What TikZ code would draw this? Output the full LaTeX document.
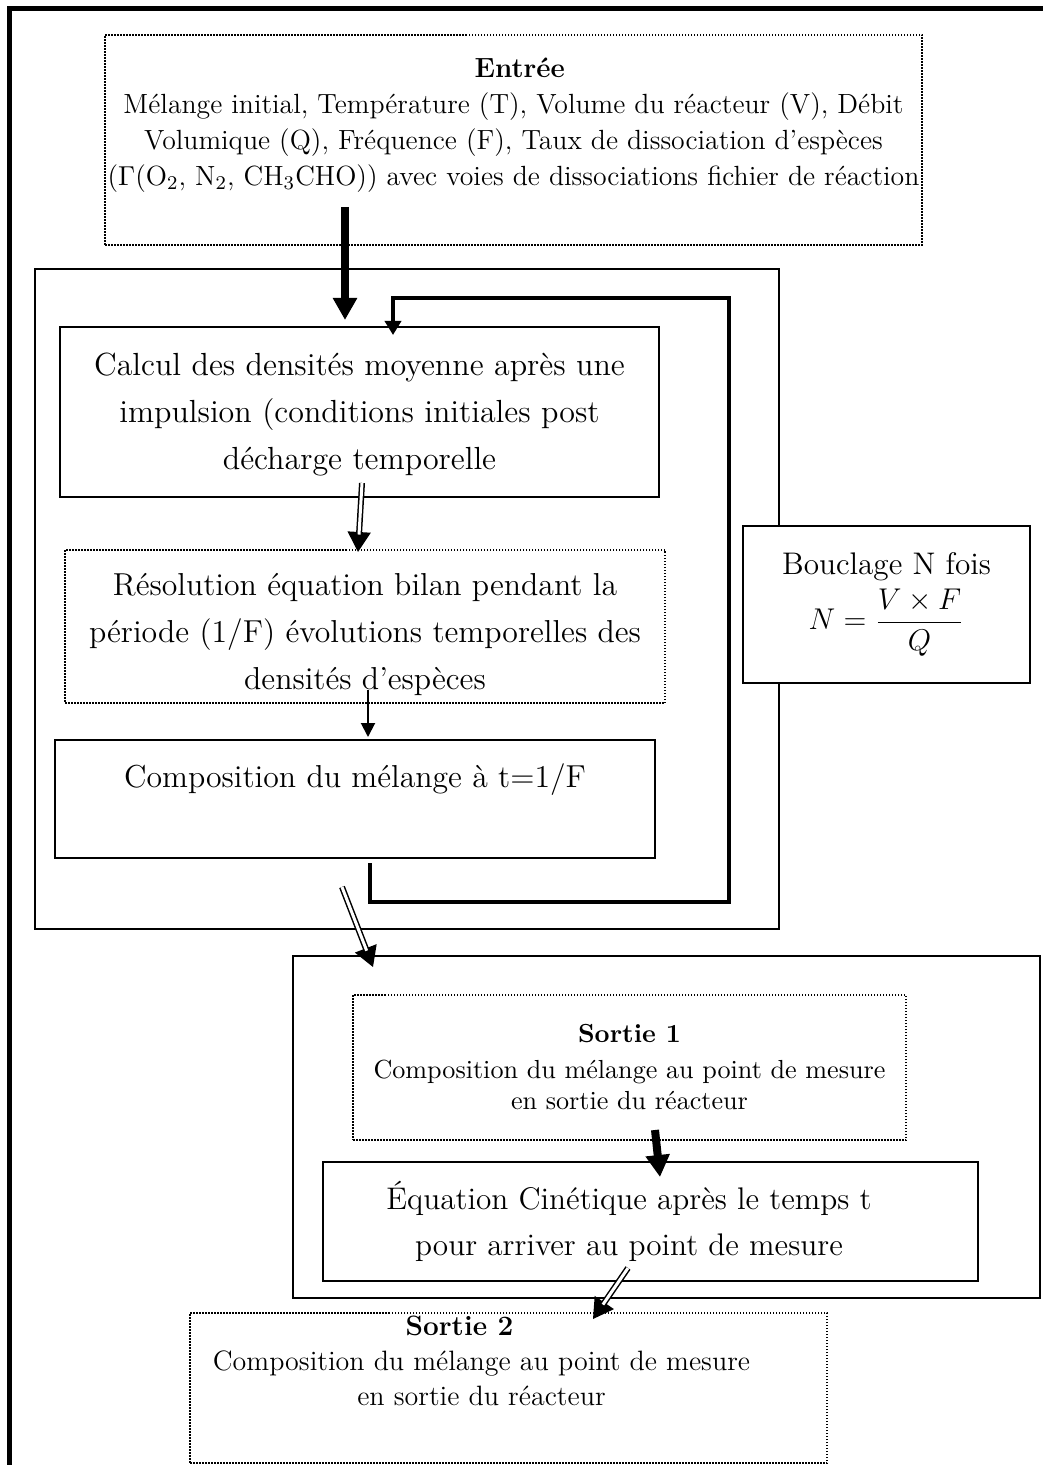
\documentclass[tikz,border=0pt]{standalone}
\usepackage{amsmath}
\usepackage{tikz}
\usetikzlibrary{arrows.meta}

% ligne decalee vers la gauche dans un cadre centre
\newcommand{\decal}[2]{\mbox{#2\hspace*{#1}}}

\tikzset{
  boxsize/.style 2 args={minimum width=#1*0.4pt, minimum height=#2*0.4pt},
  plainbox/.style={draw, line width=0.7pt, align=center, inner sep=0pt, fill=white},
  dotbox/.style={draw, dash pattern={on 0.6pt off 0.6pt}, line width=0.5pt, align=center, inner sep=0pt},
  bigtext/.style={font=\fontsize{12.7}{18.8}\selectfont},
  smalltext/.style={font=\fontsize{11.1}{14.4}\selectfont},
  grosse/.style={-{Triangle[width=9.2pt,length=8.8pt]}, line width=3.2pt},
  fine/.style={-{Triangle[width=5.6pt,length=5.6pt]}, line width=0.8pt},
  boucle/.style={-{Triangle[width=6.4pt,length=5.6pt]}, line width=1.6pt},
  dblhead/.style={-{Triangle[width=9.2pt,length=8pt]}, line width=0.6pt},
  dblline/.style={double, double distance=1.2pt, line width=0.6pt, shorten >=7pt}
}

\begin{document}
\begin{tikzpicture}[x=0.4pt, y=-0.4pt]
  \useasboundingbox[fill=white] (0,0) rectangle (1042,1465);
  \draw[line width=2pt] (9,1480) -- (9,9) -- (1060,9);

  % entree
  \node[dotbox, smalltext, boxsize={817}{210}] (entree) at (513.5,140)
    {\decal{-5pt}{\textbf{Entrée}}\\
     Mélange initial, Température (T), Volume du réacteur (V), Débit\\
     Volumique (Q), Fréquence (F), Taux de dissociation d'espèces\\
     ($\Gamma$(O\textsubscript{2}, N\textsubscript{2}, CH\textsubscript{3}CHO)) avec voies de dissociations fichier de réaction\\
     \mbox{}};

  % boucle temporelle
  \node[draw, line width=0.7pt, boxsize={744}{660}] (cadre) at (407,599) {};
  \node[plainbox, font=\fontsize{12.8}{18.8}\selectfont, boxsize={599}{170}] (calcul) at (359.5,412)
    {\rule{0pt}{11pt}Calcul des densités moyenne après une\\
     impulsion (conditions initiales post\\
     décharge temporelle};
  \node[dotbox, bigtext, boxsize={600}{153}] (resol) at (365,626.5)
    {\rule{0pt}{15pt}Résolution équation bilan pendant la\\
     période (1/F) évolutions temporelles des\\
     densités d'espèces};
  \node[plainbox, bigtext, boxsize={600}{118}] (compo) at (355,799)
    {Composition du mélange à t=1/F\\ \mbox{}};
  \node[plainbox, font=\fontsize{12.5}{18.8}\selectfont, boxsize={287}{157}] (bouclage) at (886.5,604.5)
    {Bouclage N fois\\[2pt] $N=\dfrac{V\times F}{Q}$};

  % sorties
  \node[draw, line width=0.7pt, boxsize={747}{342}] (cadre2) at (666.5,1127) {};
  \node[dotbox, font=\fontsize{10.45}{12.4}\selectfont, boxsize={553}{145}] (sortie1) at (629.5,1067.5)
    {\textbf{Sortie 1}\\[2pt]
     Composition du mélange au point de mesure\\
     en sortie du réacteur};
  \node[plainbox, font=\fontsize{12.5}{18.4}\selectfont, boxsize={655}{119}] (cinetique) at (650.5,1221.5)
    {\decal{17.2pt}{Équation Cinétique après le temps t}\\
     \decal{17.2pt}{pour arriver au point de mesure}};
  \node[dotbox, font=\fontsize{11.2}{14}\selectfont, boxsize={637}{150}] (sortie2) at (508.5,1388)
    {\decal{39.2pt}{\textbf{Sortie 2}}\\
     \decal{21.6pt}{Composition du mélange au point de mesure}\\
     \decal{21.6pt}{en sortie du réacteur}\\[8pt]
     \mbox{}};

  % points d'attache
  \coordinate (e1) at (345,207);
  \coordinate (e2) at (345,320);
  \coordinate (c1) at (362,483);
  \coordinate (c2) at (358,552);
  \coordinate (r1) at (368,690);
  \coordinate (r2) at (368,737);
  \coordinate (b0) at (370,863);
  \coordinate (b1) at (370,902);
  \coordinate (b2) at (729,902);
  \coordinate (b3) at (729,298);
  \coordinate (b4) at (393,298);
  \coordinate (b5) at (393,335);
  \coordinate (s0) at (342,887);
  \coordinate (s1) at (373,967);
  \coordinate (t1) at (655,1130);
  \coordinate (t2) at (660,1177);
  \coordinate (k1) at (628,1268);
  \coordinate (k2) at (593,1319);

  \draw[grosse] (e1) -- (e2);
  \draw[dblhead] (c1) -- (c2);
  \draw[dblline] (c1) -- (c2);
  \draw[fine] (r1) -- (r2);
  \draw[boucle] (b0) -- (b1) -- (b2) -- (b3) -- (b4) -- (b5);
  \draw[dblhead] (s0) -- (s1);
  \draw[dblline] (s0) -- (s1);
  \draw[grosse] (t1) -- (t2);
  \draw[dblhead] (k1) -- (k2);
  \draw[dblline] (k1) -- (k2);
\end{tikzpicture}
\end{document}
